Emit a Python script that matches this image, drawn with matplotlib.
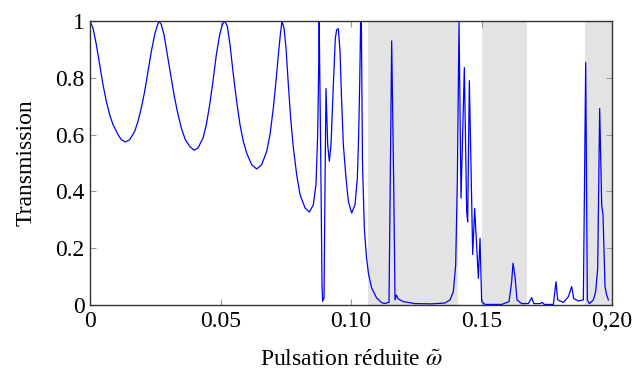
import matplotlib
matplotlib.use("Agg")
import matplotlib.pyplot as plt

plt.rcParams['font.family'] = ['Liberation Serif', 'DejaVu Serif']
plt.rcParams['mathtext.fontset'] = 'stix'

# transmission spectrum
omega = [
    0.0, 0.00115, 0.00243, 0.00370, 0.00498, 0.00626, 0.00754, 0.00881, 0.01073,
    0.01201, 0.01354, 0.01520, 0.01711, 0.01839, 0.01967, 0.02095, 0.02222,
    0.02350, 0.02478, 0.02567, 0.02644, 0.02733, 0.02835, 0.02963, 0.03091,
    0.03218, 0.03346, 0.03499, 0.03653, 0.03819, 0.03985, 0.04138, 0.04330,
    0.04457, 0.04585, 0.04713, 0.04840, 0.04968, 0.05070, 0.05166, 0.05262,
    0.05364, 0.05492, 0.05619, 0.05747, 0.05875, 0.06003, 0.06194, 0.06386,
    0.06577, 0.06769, 0.06897, 0.07024, 0.07126, 0.07216, 0.07292, 0.07356,
    0.07433, 0.07510, 0.07599, 0.07688, 0.07791, 0.07918, 0.08046, 0.08238,
    0.08404, 0.08557, 0.08659, 0.08723, 0.08761, 0.08780, 0.08838, 0.08889,
    0.08914, 0.08966, 0.09004, 0.09042, 0.09106, 0.09170, 0.09234, 0.09323,
    0.09400, 0.09451, 0.09515, 0.09579, 0.09642, 0.09706, 0.09808, 0.09898,
    0.10026, 0.10153, 0.10243, 0.10294, 0.10332, 0.10370, 0.10396, 0.10440,
    0.10510, 0.10590, 0.10670, 0.10790, 0.10980, 0.11175, 0.11328, 0.11392,
    0.11456, 0.11558, 0.11635, 0.11686, 0.11737, 0.11814, 0.12005, 0.12452,
    0.13091, 0.13602, 0.13793, 0.13921, 0.14010, 0.14074, 0.14138, 0.14215,
    0.14342, 0.14432, 0.14470, 0.14534, 0.14662, 0.14738, 0.14879, 0.14943,
    0.15006, 0.15134, 0.15773, 0.16054, 0.16155, 0.16207, 0.16284, 0.16360,
    0.16539, 0.16794, 0.16922, 0.16999, 0.17241, 0.17331, 0.17407, 0.17752,
    0.17854, 0.17918, 0.18135, 0.18327, 0.18455, 0.18531, 0.18710, 0.18902,
    0.18991, 0.19055, 0.19132, 0.19285, 0.19374, 0.19451, 0.19527, 0.19604,
    0.19655, 0.19732, 0.19796, 0.19860,
]
transmission = [
    1.0, 0.975, 0.917, 0.846, 0.776, 0.717, 0.670, 0.635, 0.600,
    0.582, 0.574, 0.582, 0.611, 0.647, 0.694, 0.752, 0.823,
    0.893, 0.952, 0.981, 1.0, 0.987, 0.952, 0.881, 0.811,
    0.741, 0.682, 0.623, 0.582, 0.559, 0.545, 0.553, 0.588,
    0.635, 0.705, 0.788, 0.881, 0.952, 0.987, 1.0, 0.981,
    0.917, 0.811, 0.717, 0.635, 0.576, 0.535, 0.494, 0.479,
    0.494, 0.541, 0.600, 0.694, 0.788, 0.881, 0.952, 1.0,
    0.975, 0.905, 0.776, 0.658, 0.553, 0.459, 0.389, 0.342,
    0.327, 0.353, 0.424, 0.600, 0.835, 1.0, 0.541, 0.072,
    0.013, 0.025, 0.424, 0.762, 0.565, 0.506, 0.565, 0.776,
    0.940, 0.969, 0.973, 0.893, 0.717, 0.565, 0.447, 0.365,
    0.324, 0.353, 0.447, 0.600, 0.776, 1.0, 1.0, 0.500,
    0.270, 0.170, 0.110, 0.060, 0.025, 0.008, 0.005, 0.009,
    0.009, 0.930, 0.434, 0.018, 0.035, 0.021, 0.012, 0.005,
    0.004, 0.007, 0.018, 0.047, 0.141, 0.434, 1.0, 0.376,
    0.836, 0.329, 0.293, 0.790, 0.178, 0.340, 0.094, 0.235,
    0.012, 0.002, 0.002, 0.012, 0.082, 0.147, 0.100, 0.018,
    0.005, 0.005, 0.026, 0.005, 0.005, 0.009, 0.002, 0.002,
    0.082, 0.018, 0.009, 0.029, 0.065, 0.023, 0.014, 0.018,
    0.854, 0.018, 0.005, 0.018, 0.047, 0.129, 0.692, 0.352,
    0.317, 0.065, 0.035, 0.018,
]

# band gaps (shaded)
gap_start = [0.1064, 0.1500, 0.1897]
gap_end = [0.1410, 0.1673, 0.2000]

xticks = [0, 0.05, 0.10, 0.15, 0.20]
xlabels = ["0", "0.05", "0.10", "0.15", "0,20"]
yticks = [0, 0.2, 0.4, 0.6, 0.8, 1]
ylabels = ["0", "0.2", "0.4", "0.6", "0.8", "1"]

fig = plt.figure(figsize=(6.36, 3.76), dpi=100)
ax = fig.add_axes([0.1415, 0.1888, 0.8208, 0.7553])

for a, b in zip(gap_start, gap_end):
    ax.axvspan(a, b, color='#e3e3e3', lw=0, zorder=0)

ax.plot(omega, transmission, color='#0000ff', lw=0.9, zorder=2)

ax.set_xlim(0, 0.2)
ax.set_ylim(0, 1)
ax.set_xticks(xticks)
ax.set_xticklabels(xlabels)
ax.set_yticks(yticks)
ax.set_yticklabels(ylabels)
ax.tick_params(direction='in', length=4.5, width=0.8, color='#999999',
               top=True, right=True, labelsize=17, pad=4)
for s in ax.spines.values():
    s.set_color('#333333')
    s.set_linewidth(1.0)
    s.set_zorder(3)

ax.set_xlabel(r"Pulsation réduite $\tilde{\omega}$", fontsize=17, labelpad=13)
ax.set_ylabel("Transmission", fontsize=17, labelpad=13)

fig.savefig("out.png", dpi=100)
